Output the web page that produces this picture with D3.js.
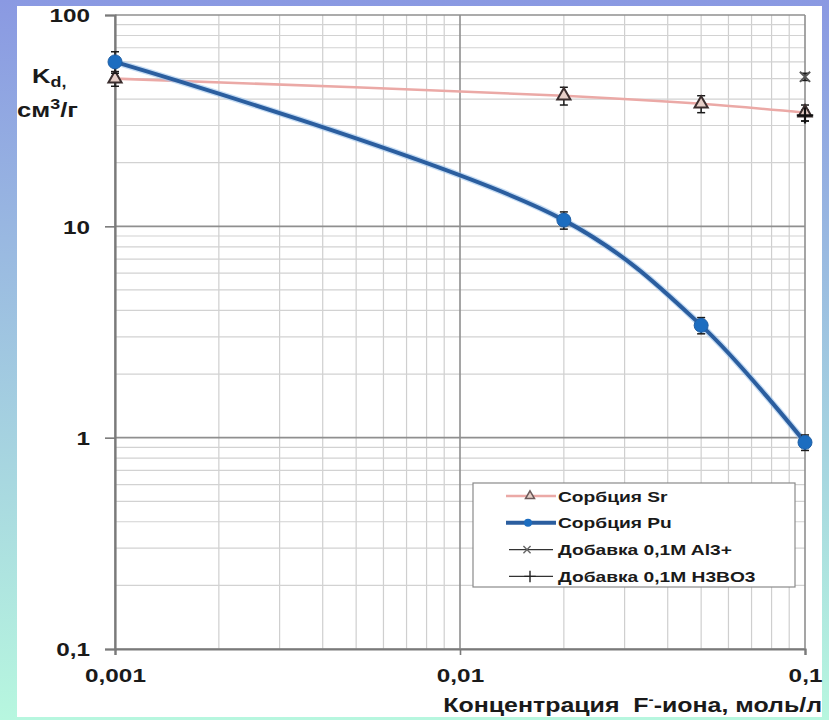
<!DOCTYPE html>
<html><head><meta charset="utf-8">
<script src="https://cdn.jsdelivr.net/npm/d3@7"></script>
<style>
html,body{margin:0;padding:0;background:#fff;}
svg{display:block;}
text{font-family:"Liberation Sans",Arial,sans-serif;font-weight:bold;fill:#1a1a1a;white-space:pre;}
</style></head>
<body>
<svg id="chart" width="829" height="720"></svg>
<script>
// ---- data ----
const concentrations = [0.001, 0.02, 0.05, 0.1];          // F- concentration, mol/l
const srValues = [50, 41.5, 38, 34.5];                     // Sr sorption Kd
const srErrors = [4, 4, 3.5, 3];
const puValues = [60, 10.7, 3.4, 0.95];                    // Pu sorption Kd
const puErrors = [7, 1, 0.3, 0.08];
const alConc = [0.1];                                      // + 0.1M Al3+
const alValues = [51];
const alErrors = [2];
const boConc = [0.1];                                      // + 0.1M H3BO3
const boValues = [33.5];
const boErrors = [2];
const seriesNames = ["Сорбция Sr", "Сорбция Pu", "Добавка 0,1M Al3+", "Добавка 0,1M H3BO3"];
const xTicks = [0.001, 0.01, 0.1];
const xTickLabels = ["0,001", "0,01", "0,1"];
const yTicks = [0.1, 1, 10, 100];
const yTickLabels = ["0,1", "1", "10", "100"];

// ---- layout ----
const W = 829, H = 720;
const L = 115, R = 805, T = 15, B = 649;
const S = 1.28; // horizontal stretch of the original picture's text

const svg = d3.select("#chart");
const defs = svg.append("defs");
const grad = defs.append("linearGradient").attr("id","bg").attr("x1",0).attr("y1",0).attr("x2",0).attr("y2",1);
grad.append("stop").attr("offset","0%").attr("stop-color","#8a99e2");
grad.append("stop").attr("offset","100%").attr("stop-color","#b7f7df");
svg.append("rect").attr("width",W).attr("height",H).attr("fill","url(#bg)");
svg.append("rect").attr("x",17).attr("y",6).attr("width",805).attr("height",711).attr("fill","#fff");

const x = d3.scaleLog().domain([0.001, 0.1]).range([L, R]);
const y = d3.scaleLog().domain([0.1, 100]).range([B, T]);

function stretch(sel){
  sel.each(function(){
    const t = d3.select(this);
    const tx = +t.attr("x") || 0, ty = +t.attr("y") || 0;
    const prev = t.attr("transform") || "";
    t.attr("x",0).attr("y",0).attr("transform", prev + ` translate(${tx},${ty}) scale(${S},1)`);
  });
}

// minor grid
const isMajor = v => Math.abs(Math.log10(v) - Math.round(Math.log10(v))) < 1e-6;
const xMinor = x.ticks().filter(v => !isMajor(v));
const yMinor = y.ticks().filter(v => !isMajor(v));
const grid = svg.append("g");
grid.selectAll(".vx").data(xMinor).join("line")
  .attr("x1",d=>x(d)).attr("x2",d=>x(d)).attr("y1",T).attr("y2",B)
  .attr("stroke","#cfcfcf").attr("stroke-width",1.2);
grid.selectAll(".hy").data(yMinor).join("line")
  .attr("x1",L).attr("x2",R).attr("y1",d=>y(d)).attr("y2",d=>y(d))
  .attr("stroke","#d2d2d2").attr("stroke-width",1.2);
// major grid
grid.selectAll(".vX").data(xTicks).join("line")
  .attr("x1",d=>x(d)).attr("x2",d=>x(d)).attr("y1",T).attr("y2",B)
  .attr("stroke","#8f8f8f").attr("stroke-width",1.6);
grid.selectAll(".hY").data(yTicks).join("line")
  .attr("x1",L).attr("x2",R).attr("y1",d=>y(d)).attr("y2",d=>y(d))
  .attr("stroke","#8f8f8f").attr("stroke-width",1.6);

// axes
const yAxis = svg.append("g").attr("transform",`translate(${L},0)`)
  .call(d3.axisLeft(y).tickValues(yTicks).tickFormat((d,i)=>yTickLabels[i]).tickSize(10).tickPadding(15));
yAxis.select(".domain").attr("stroke","#7a7a7a").attr("stroke-width",2.2);
yAxis.selectAll(".tick line").attr("stroke","#7a7a7a").attr("stroke-width",1.6);
yAxis.selectAll("text").attr("font-size",19).attr("font-family",null).attr("fill","#1a1a1a").attr("dy","0.36em").call(stretch);

const xAxis = svg.append("g").attr("transform",`translate(0,${B})`)
  .call(d3.axisBottom(x).tickValues(xTicks).tickFormat((d,i)=>xTickLabels[i]).tickSize(6).tickPadding(14));
xAxis.select(".domain").attr("stroke","#7a7a7a").attr("stroke-width",2.2);
xAxis.selectAll(".tick line").attr("stroke","#7a7a7a").attr("stroke-width",1.6);
xAxis.selectAll("text").attr("font-size",19).attr("font-family",null).attr("fill","#1a1a1a").call(stretch);

// x axis title
const xt = svg.append("text").attr("x",822).attr("y",712).attr("text-anchor","end").attr("font-size",19.5);
xt.append("tspan").text("Концентрация  F");
xt.append("tspan").attr("font-size",12).attr("dy",-8).text("-");
xt.append("tspan").attr("dy",8).text("-иона, моль/л");
stretch(xt);

// y axis title
const yt1 = svg.append("text").attr("x",32).attr("y",83).attr("font-size",20);
yt1.append("tspan").text("K");
yt1.append("tspan").attr("font-size",14).attr("dy",4).text("d,");
stretch(yt1);
const yt2 = svg.append("text").attr("x",17).attr("y",117).attr("font-size",20);
yt2.append("tspan").text("см");
yt2.append("tspan").attr("font-size",14).attr("dy",-8).text("3");
yt2.append("tspan").attr("dy",8).text("/г");
stretch(yt2);

// series
const srData = concentrations.map((c,i)=>({x:c, v:srValues[i], e:srErrors[i]}));
const puData = concentrations.map((c,i)=>({x:c, v:puValues[i], e:puErrors[i]}));
const alData = alConc.map((c,i)=>({x:c, v:alValues[i], e:alErrors[i]}));
const boData = boConc.map((c,i)=>({x:c, v:boValues[i], e:boErrors[i]}));

const line = d3.line().x(d=>x(d.x)).y(d=>y(d.v)).curve(d3.curveCatmullRom.alpha(0.5));

svg.append("path").datum(srData).attr("d",line).attr("fill","none")
  .attr("stroke","#eba9a6").attr("stroke-width",2.6);
svg.append("path").datum(puData).attr("d",line).attr("fill","none")
  .attr("stroke","#9fc4ec").attr("stroke-width",6.5).attr("opacity",0.6);
svg.append("path").datum(puData).attr("d",line).attr("fill","none")
  .attr("stroke","#2b5e9f").attr("stroke-width",4);

function errorBars(data){
  const g = svg.append("g").attr("stroke","#1a1a1a").attr("stroke-width",1.5);
  g.selectAll("line.v").data(data).join("line")
    .attr("x1",d=>x(d.x)).attr("x2",d=>x(d.x)).attr("y1",d=>y(d.v+d.e)).attr("y2",d=>y(d.v-d.e));
  g.selectAll("line.t").data(data).join("line")
    .attr("x1",d=>x(d.x)-4).attr("x2",d=>x(d.x)+4).attr("y1",d=>y(d.v+d.e)).attr("y2",d=>y(d.v+d.e));
  g.selectAll("line.b").data(data).join("line")
    .attr("x1",d=>x(d.x)-4).attr("x2",d=>x(d.x)+4).attr("y1",d=>y(d.v-d.e)).attr("y2",d=>y(d.v-d.e));
}
errorBars(srData);
errorBars(alData);
errorBars(boData);

const tri = d3.symbol().type(d3.symbolTriangle).size(75);
svg.append("g").selectAll("path").data(srData).join("path")
  .attr("transform",d=>`translate(${x(d.x)},${y(d.v)})`).attr("d",tri)
  .attr("fill","#e6cfc8").attr("stroke","#3b2e2e").attr("stroke-width",2);

const xs = d3.symbol().type(d3.symbolX).size(70);
svg.append("g").selectAll("path").data(alData).join("path")
  .attr("transform",d=>`translate(${x(d.x)},${y(d.v)})`).attr("d",xs)
  .attr("fill","none").attr("stroke","#555").attr("stroke-width",2);
const ps = d3.symbol().type(d3.symbolPlus).size(90);
svg.append("g").selectAll("path").data(boData).join("path")
  .attr("transform",d=>`translate(${x(d.x)},${y(d.v)})`).attr("d",ps)
  .attr("fill","none").attr("stroke","#111").attr("stroke-width",2.2);

errorBars(puData);
svg.append("g").selectAll("circle").data(puData).join("circle")
  .attr("cx",d=>x(d.x)).attr("cy",d=>y(d.v)).attr("r",7)
  .attr("fill","#1c6dc0").attr("stroke","#1f5fa5").attr("stroke-width",1);

// legend
const lg = svg.append("g");
lg.append("rect").attr("x",473).attr("y",483).attr("width",322).attr("height",104)
  .attr("fill","#fff").attr("stroke","#8a8a8a").attr("stroke-width",1.2);
const rowY = i => 496 + i*26.8;
const lx1 = 506, lx2 = 556, lmx = 530;
// Sr
lg.append("line").attr("x1",lx1).attr("x2",lx2).attr("y1",rowY(0)).attr("y2",rowY(0)).attr("stroke","#eba9a6").attr("stroke-width",2.4);
lg.append("path").attr("transform",`translate(${lmx},${rowY(0)})`).attr("d",d3.symbol().type(d3.symbolTriangle).size(35))
  .attr("fill","#e6cfc8").attr("stroke","#6b5a5a").attr("stroke-width",1.5);
// Pu
lg.append("line").attr("x1",lx1).attr("x2",lx2).attr("y1",rowY(1)).attr("y2",rowY(1)).attr("stroke","#2b5e9f").attr("stroke-width",4);
lg.append("circle").attr("cx",lmx-2).attr("cy",rowY(1)).attr("r",4).attr("fill","#1c6dc0");
// Al
lg.append("line").attr("x1",lx1+3).attr("x2",lx2-3).attr("y1",rowY(2)).attr("y2",rowY(2)).attr("stroke","#333").attr("stroke-width",1.2);
lg.append("path").attr("transform",`translate(${lmx-3},${rowY(2)})`).attr("d",d3.symbol().type(d3.symbolX).size(35))
  .attr("fill","none").attr("stroke","#666").attr("stroke-width",1.4);
// H3BO3
lg.append("line").attr("x1",lx1+3).attr("x2",lx2-3).attr("y1",rowY(3)).attr("y2",rowY(3)).attr("stroke","#333").attr("stroke-width",1.2);
lg.append("path").attr("transform",`translate(${lmx},${rowY(3)})`).attr("d",d3.symbol().type(d3.symbolPlus).size(45))
  .attr("fill","none").attr("stroke","#222").attr("stroke-width",1.4);
lg.selectAll("text.lab").data(seriesNames).join("text")
  .attr("x",558).attr("y",(d,i)=>rowY(i)+5.5).attr("font-size",15).text(d=>d).call(stretch);
</script>
</body></html>
